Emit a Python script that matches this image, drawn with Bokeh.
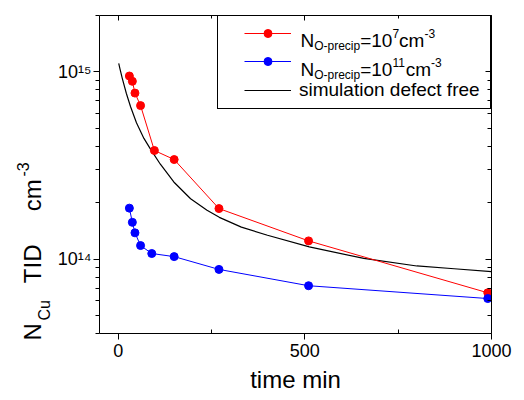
from bokeh.plotting import figure
from bokeh.models import (Range1d, FixedTicker, LinearAxis, LogAxis, Legend, LegendItem,
                          Label, Title, CustomJSTickFormatter)
from bokeh.embed import file_html
from bokeh.resources import INLINE

# ---------------- data ----------------
red_t = [30, 38, 45, 60, 97, 150, 270, 510, 990]
red_n = [9.5e14, 8.9e14, 7.7e14, 6.6e14, 3.8e14, 3.4e14, 1.86e14, 1.25e14, 6.6e13]

blue_t = [30, 38, 45, 60, 90, 150, 270, 510, 990]
blue_n = [1.87e14, 1.57e14, 1.38e14, 1.18e14, 1.07e14, 1.03e14, 8.8e13, 7.2e13, 6.15e13]

sim_t = [1.5, 5, 11, 22, 33, 49, 69, 87, 113, 149, 194, 238, 271, 330, 400, 512,
         658, 800, 900, 1000]
sim_n = [1.109e15, 1.035e15, 9.23e14, 7.66e14, 6.53e14, 5.35e14, 4.41e14, 3.85e14,
         3.21e14, 2.58e14, 2.10e14, 1.82e14, 1.67e14, 1.48e14, 1.34e14, 1.16e14,
         1.007e14, 9.18e13, 8.87e13, 8.57e13]

x_ticks = [0, 500, 1000]
x_minor = [250, 750]
y_ticks = [1e14, 1e15]
y_minor = [m * 10.0 ** e for e in (13, 14) for m in range(2, 10)] + [2e15]

FONT = "Liberation Sans"
RED = "#ff0000"
BLUE = "#0000ff"
NB = "\u00a0"

# ---------------- layout ----------------
W, H = 524, 400
FL, FR, FT, FB = 99, 491, 15, 333   # frame edges (canvas px)

p = figure(width=W, height=H, x_range=Range1d(-50, 1000), y_range=Range1d(4e13, 2e15),
           y_axis_type="log", output_backend="svg", toolbar_location=None,
           min_border_left=FL, min_border_right=W - FR, min_border_top=FT,
           min_border_bottom=H - FB)
p.outline_line_color = None
p.xgrid.visible = False
p.ygrid.visible = False
p.background_fill_color = "white"
p.border_fill_color = "white"

sup_code = """
const sup = {"0":"\u2070","1":"\u00b9","2":"\u00b2","3":"\u00b3","4":"\u2074","5":"\u2075",
             "6":"\u2076","7":"\u2077","8":"\u2078","9":"\u2079","-":"\u207b"};
const e = Math.round(Math.log10(tick));
return "10" + String(e).split("").map(c => sup[c]).join("");
"""

xa = p.xaxis[0]
xa.ticker = FixedTicker(ticks=x_ticks, minor_ticks=x_minor)
xa.major_tick_out = 6
xa.major_tick_in = 0
xa.minor_tick_out = 0
xa.minor_tick_in = 4
xa.major_label_standoff = 4
xa.major_label_text_font = FONT
xa.major_label_text_font_size = "18px"
xa.major_label_text_color = "black"
xa.axis_label = "time min"
xa.axis_label_text_font = FONT
xa.axis_label_text_font_size = "24px"
xa.axis_label_text_font_style = "normal"
xa.axis_label_text_color = "black"
xa.axis_label_standoff = 6
xa.axis_line_color = "black"

ya = p.yaxis[0]
ya.ticker = FixedTicker(ticks=y_ticks, minor_ticks=y_minor)
ya.formatter = CustomJSTickFormatter(code=sup_code)
ya.major_tick_out = 6
ya.major_tick_in = 0
ya.minor_tick_out = 4
ya.minor_tick_in = 0
ya.major_label_standoff = 2
ya.major_label_text_font = FONT
ya.major_label_text_font_size = "18px"
ya.major_label_text_color = "black"
ya.axis_line_color = "black"

blank = "return ''"
top = LinearAxis(ticker=FixedTicker(ticks=x_ticks, minor_ticks=x_minor),
                 formatter=CustomJSTickFormatter(code=blank),
                 major_tick_in=5, major_tick_out=0, minor_tick_in=3, minor_tick_out=0,
                 major_label_text_font_size="0px", major_label_standoff=0,
                 axis_line_color="black")
p.add_layout(top, "above")
right = LogAxis(ticker=FixedTicker(ticks=y_ticks, minor_ticks=y_minor),
                formatter=CustomJSTickFormatter(code=blank),
                major_tick_in=6, major_tick_out=0, minor_tick_in=4, minor_tick_out=0,
                major_label_text_font_size="0px", major_label_standoff=0,
                axis_line_color="black")
p.add_layout(right, "right")

# ---------------- y axis title: subscript, main text, superscript (side-panel titles) ----
t_sub = Title(text="Cu", text_font=FONT, text_font_size="16px", text_font_style="normal",
              text_color="black", align="left", offset=13, standoff=4)
p.add_layout(t_sub, "left")
t_main = Title(text="N" + NB * 6 + "TID" + NB * 5 + "cm", text_font=FONT,
               text_font_size="24px", text_font_style="normal", text_color="black",
               align="left", offset=-7, standoff=-28)
p.add_layout(t_main, "left")
t_sup = Title(text="-3", text_font=FONT, text_font_size="16px", text_font_style="normal",
              text_color="black", align="left", offset=157, standoff=3)
p.add_layout(t_sup, "left")

# ---------------- data marks ----------------
r_sim = p.line(sim_t, sim_n, line_color="black", line_width=1.2)
r_red_l = p.line(red_t, red_n, line_color=RED, line_width=1)
r_red_p = p.scatter(red_t, red_n, size=8, fill_color=RED, line_color=RED)
r_blue_l = p.line(blue_t, blue_n, line_color=BLUE, line_width=1)
r_blue_p = p.scatter(blue_t, blue_n, size=8, fill_color=BLUE, line_color=BLUE)

# ---------------- legend ----------------
def sx(cx):
    return cx - FL

def sy(cy):
    return FB - cy

legend = Legend(items=[LegendItem(label="", renderers=[r_red_l, r_red_p]),
                       LegendItem(label="", renderers=[r_blue_l, r_blue_p]),
                       LegendItem(label="simulation defect free", renderers=[r_sim])],
                location="top_right", padding=7, spacing=8, margin=0,
                glyph_width=47, glyph_height=20, label_standoff=8, label_width=184,
                title=" ", title_location="left", title_text_font_size="10px",
                title_standoff=8,
                label_text_font=FONT, label_text_font_size="19px",
                label_text_color="black",
                border_line_color="black", border_line_width=1, border_line_alpha=1.0,
                background_fill_alpha=0.0)
p.add_layout(legend)

def piece(text, cx, cy, size):
    p.add_layout(Label(x=sx(cx), y=sy(cy), x_units="screen", y_units="screen",
                       text=text, text_font=FONT, text_font_size=size,
                       text_color="black", text_align="left",
                       text_baseline="alphabetic"))

legend_rows = [
    (39.6, [("N", 300, 0), ("O-precip", 313.7, 1), ("=10", 359.7, 0), ("7", 391.9, -1),
            ("cm", 398.6, 0), ("-3", 423.9, -1)]),
    (68.8, [("N", 300, 0), ("O-precip", 313.7, 1), ("=10", 359.7, 0), ("11", 391.9, -1),
            ("cm", 405.2, 0), ("-3", 430.5, -1)]),
]
for base, parts in legend_rows:
    for text, cx, kind in parts:
        if kind == 0:
            piece(text, cx, base, "19px")
        elif kind == 1:
            piece(text, cx, base + 6, "12px")
        else:
            piece(text, cx, base - 7, "12px")

open("out.html", "w").write(file_html(p, INLINE))
